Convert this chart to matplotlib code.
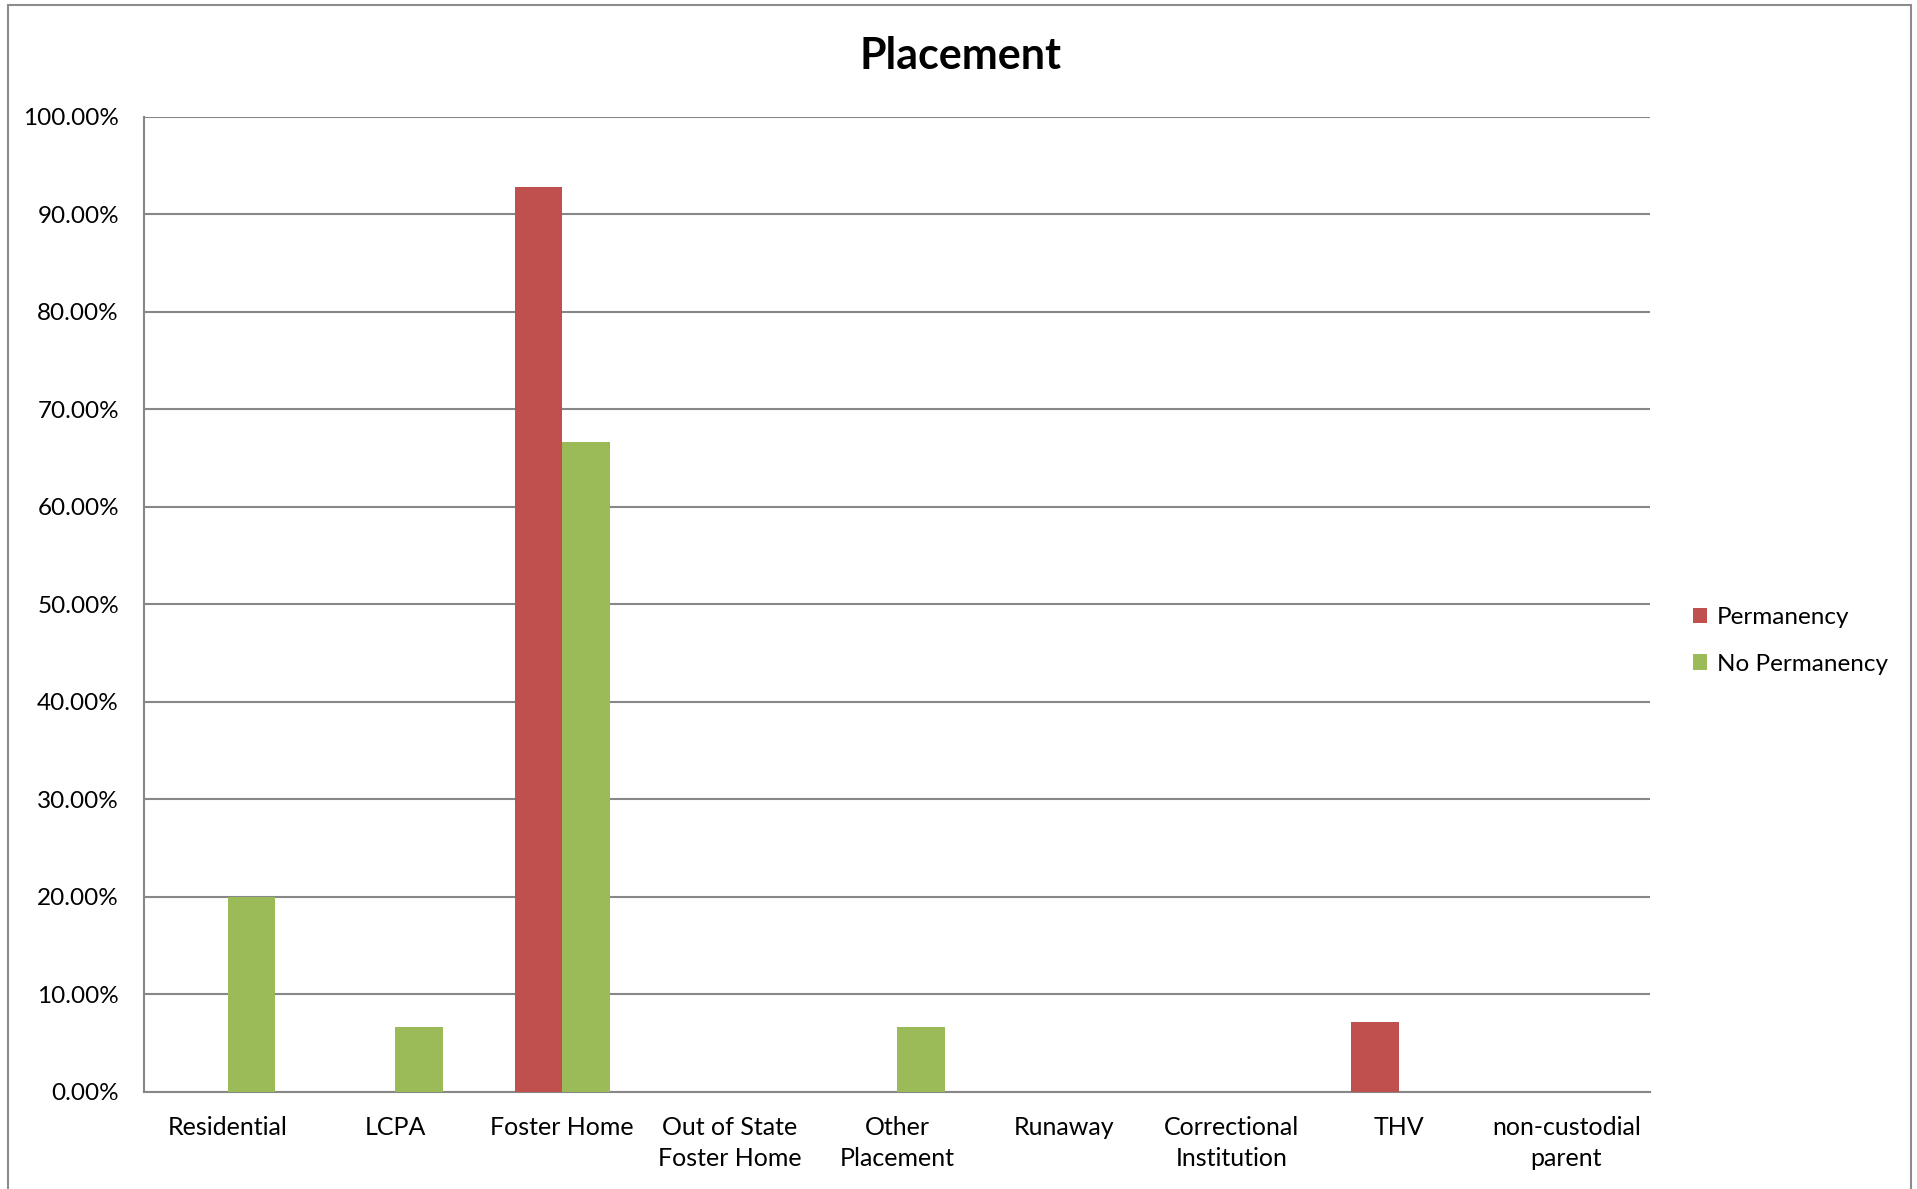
import matplotlib.pyplot as plt
import numpy as np
from matplotlib.patches import Rectangle
from matplotlib.ticker import FuncFormatter

categories = ["Residential", "LCPA", "Foster Home", "Out of State\nFoster Home",
              "Other\nPlacement", "Runaway", "Correctional\nInstitution", "THV",
              "non-custodial\nparent"]
permanency = [0.0, 0.0, 92.86, 0.0, 0.0, 0.0, 0.0, 7.14, 0.0]
no_permanency = [20.0, 6.67, 66.67, 0.0, 6.67, 0.0, 0.0, 0.0, 0.0]
y_ticks = [0, 10, 20, 30, 40, 50, 60, 70, 80, 90, 100]

RED = "#C0504D"
GREEN = "#9BBB59"
GRID = "#878787"


def main() -> None:
    plt.rcParams["font.family"] = ["Lato", "DejaVu Sans"]

    fig = plt.figure(figsize=(19.17, 11.89), dpi=100)
    ax = fig.add_axes([0.0751, 0.0816, 0.7856, 0.82])

    # outer chart border
    fig.patches.append(Rectangle((8 / 1917, -0.01), 1903 / 1917, 1 - 5 / 1189 + 0.01,
                                 transform=fig.transFigure, fill=False,
                                 edgecolor="#8c8c8c", linewidth=1.5))

    x = np.arange(len(categories))
    w = 0.285
    ax.bar(x - w / 2, permanency, w, color=RED, label="Permanency", zorder=3)
    ax.bar(x + w / 2, no_permanency, w, color=GREEN, label="No Permanency", zorder=3)

    ax.set_xlim(-0.5, len(categories) - 0.5)
    ax.set_ylim(0, 100)
    ax.set_yticks(y_ticks)
    ax.yaxis.set_major_formatter(FuncFormatter(lambda v, _: f"{v:.2f}%"))
    ax.set_xticks(x)
    ax.set_xticklabels(categories, linespacing=1.45)
    ax.tick_params(axis="x", length=0, labelsize=18, colors="black", pad=17)
    ax.tick_params(axis="y", length=0, labelsize=17.5, colors="black", pad=18)

    ax.grid(axis="y", color=GRID, linewidth=1.5, zorder=0)
    for side in ["top", "right"]:
        ax.spines[side].set_visible(False)
    for side in ["left", "bottom"]:
        ax.spines[side].set_color(GRID)
        ax.spines[side].set_linewidth(1.5)

    fig.text(0.5 + 0.0008, 0.953, "Placement", ha="center", va="center",
             fontsize=31, fontweight="bold")

    fig.legend(loc="center left", bbox_to_anchor=(0.8715, 0.461), frameon=False,
               fontsize=17.5, handlelength=0.6, handleheight=0.6,
               handletextpad=0.4, labelspacing=1.05)

    fig.savefig("out.png", dpi=100)


if __name__ == "__main__":
    main()
